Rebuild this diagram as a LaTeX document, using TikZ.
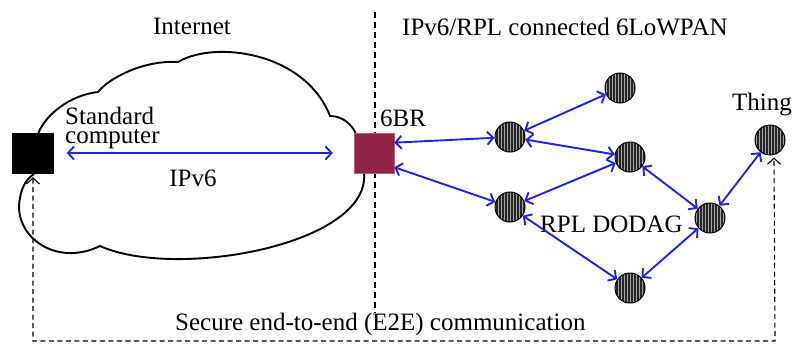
\documentclass[tikz,border=0pt]{standalone}
\usepackage{fontspec}
\setmainfont{Liberation Serif}
\usetikzlibrary{arrows.meta,patterns}
\definecolor{linkblue}{RGB}{35,35,228}
\definecolor{brred}{RGB}{146,35,72}
\begin{document}
\begin{tikzpicture}[x=1pt,y=-1pt,
  lbl/.style={font=\fontsize{25}{18.5}\selectfont, inner sep=0pt},
  link/.style={{Straight Barb[length=6pt,width=13pt]}-{Straight Barb[length=6pt,width=13pt]},
               draw=linkblue, line width=1.9pt},
  e2e/.style={draw=black, line width=1.1pt, dash pattern=on 5pt off 3.5pt},
  sep/.style={draw=black, line width=1.1pt, dash pattern=on 6pt off 4pt},
  mote/.style={circle, minimum size=30pt, inner sep=0pt, draw=black, line width=1pt,
               preaction={fill=black!85}, pattern=vertical lines, pattern color=gray!70},
  cloudline/.style={draw=black, line width=1.9pt}]
\useasboundingbox (0,0) rectangle (795,343);

% network boundary
\coordinate (septop) at (375,12);
\coordinate (sepbot) at (375,313);
\draw[sep] (septop) -- (sepbot);

% Internet cloud
\draw[cloudline] (38,134) .. controls (45,115) and (70,95) .. (98,92)
  .. controls (110,77) and (145,60) .. (178,62)
  .. controls (215,40) and (305,52) .. (330,116)
  .. controls (342,116) and (352,124) .. (356,134)
  -- (364,172)
  .. controls (372,245) and (175,280) .. (100,246)
  .. controls (55,268) and (12,235) .. (20,198)
  .. controls (22,185) and (28,178) .. (34,174);

% end points and border router
\node[draw=black, fill=black, minimum width=41pt, minimum height=40pt, inner sep=0pt] (pc) at (33,153) {};
\node[draw=brred!70!white, fill=brred, minimum width=40pt, minimum height=40pt, inner sep=0pt, line width=0.5pt] (br) at (374,153) {};

% RPL motes
\node[mote] (n1) at (510,137) {};
\node[mote] (n2) at (620,88) {};
\node[mote] (n3) at (630,157) {};
\node[mote] (n4) at (510,207) {};
\node[mote] (n5) at (710,218) {};
\node[mote] (n6) at (630,288) {};
\node[mote] (thing) at (770,140) {};

% labels
\node[lbl, anchor=base] (tnet) at (192,34) {Internet};
\node[lbl, anchor=base west] (tlow) at (402,35) {IPv6/RPL connected 6LoWPAN};
\node[lbl, anchor=north west, align=left] (tpc) at (65,107) {Standard\\computer};
\node[lbl, anchor=base] (tipv) at (193,186) {IPv6};
\node[lbl, anchor=base west] (tbr) at (380,126) {6BR};
\node[lbl, anchor=base west] (tthing) at (732,110) {Thing};
\node[lbl, anchor=base west] (tdodag) at (540,232) {RPL DODAG};
\node[lbl, anchor=base west] (tsec) at (175,330) {Secure end-to-end (E2E) communication};

% IPv6 link across the Internet
\draw[link, shorten <=13pt, shorten >=21pt] (pc.east) -- (br.west);

% RPL links
\draw[link] (br.27) -- (n1);
\draw[link] (br.-35) -- (n4);
\draw[link] (n1) -- (n2);
\draw[link] (n1) -- (n3);
\draw[link] (n4) -- (n3);
\draw[link] (n3) -- (n5);
\draw[link] (n4) -- (n6);
\draw[link] (n6) -- (n5);
\draw[link] (n5) -- (thing);

% end-to-end secure path
\coordinate (e2eL) at (33,341);
\coordinate (e2eR) at (775,341);
\draw[e2e, {Straight Barb[length=6pt,width=13pt]}-{Straight Barb[length=6pt,width=13pt]}]
  ([yshift=-4pt]pc.south) -- (e2eL) -- (e2eR) -- ([xshift=4pt,yshift=-2pt]thing.south);
\end{tikzpicture}
\end{document}
